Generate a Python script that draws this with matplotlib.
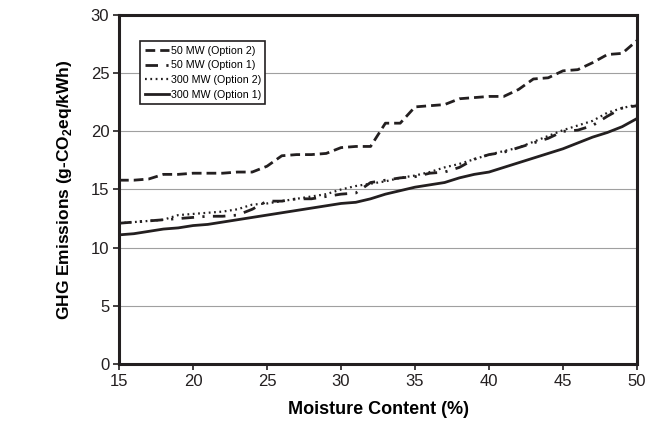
import matplotlib
matplotlib.use("Agg")
import matplotlib.pyplot as plt

plt.rcParams["font.family"] = ["Liberation Sans", "DejaVu Sans"]
plt.rcParams["mathtext.fontset"] = "custom"
plt.rcParams["mathtext.rm"] = "Liberation Sans"
plt.rcParams["mathtext.bf"] = "Liberation Sans:bold"

moisture = list(range(15, 51))

mw50_opt2 = [15.8, 15.8, 15.9, 16.3, 16.3, 16.4, 16.4, 16.4, 16.5, 16.5,
             17.0, 17.9, 18.0, 18.0, 18.1, 18.6, 18.7, 18.7, 20.7, 20.7,
             22.1, 22.2, 22.3, 22.8, 22.9, 23.0, 23.0, 23.6, 24.5, 24.6,
             25.2, 25.3, 25.9, 26.6, 26.7, 27.8]
mw50_opt1 = [12.1, 12.2, 12.3, 12.4, 12.5, 12.6, 12.7, 12.7, 12.8, 13.3,
             14.0, 14.0, 14.2, 14.2, 14.4, 14.6, 14.7, 15.6, 15.8, 16.0,
             16.1, 16.4, 16.5, 16.9, 17.6, 18.0, 18.2, 18.6, 19.0, 19.4,
             20.0, 20.1, 20.5, 21.3, 22.0, 22.2]
mw300_opt2 = [12.1, 12.2, 12.3, 12.4, 12.8, 12.9, 13.0, 13.1, 13.3, 13.7,
              13.8, 14.0, 14.2, 14.4, 14.6, 15.0, 15.3, 15.5, 15.7, 16.0,
              16.2, 16.5, 16.9, 17.2, 17.6, 18.0, 18.3, 18.6, 19.1, 19.6,
              20.1, 20.5, 20.9, 21.6, 22.0, 22.3]
mw300_opt1 = [11.1, 11.2, 11.4, 11.6, 11.7, 11.9, 12.0, 12.2, 12.4, 12.6,
              12.8, 13.0, 13.2, 13.4, 13.6, 13.8, 13.9, 14.2, 14.6, 14.9,
              15.2, 15.4, 15.6, 16.0, 16.3, 16.5, 16.9, 17.3, 17.7, 18.1,
              18.5, 19.0, 19.5, 19.9, 20.4, 21.1]

fig = plt.figure(figsize=(6.55, 4.22), dpi=100)
ax = fig.add_axes([0.1817, 0.1374, 0.7908, 0.8271])

c = "#231f20"
ax.plot(moisture, mw50_opt2, color=c, lw=2, dashes=(3.5, 1.8), label="50 MW (Option 2)")
ax.plot(moisture, mw50_opt1, color=c, lw=2, dashes=(4.5, 3, 0.8, 3), label="50 MW (Option 1)")
ax.plot(moisture, mw300_opt2, color=c, lw=1.6, dashes=(0.8, 1.6), label="300 MW (Option 2)")
ax.plot(moisture, mw300_opt1, color=c, lw=2, label="300 MW (Option 1)")

ax.set_xlim(15, 50)
ax.set_ylim(0, 30)
ax.set_xticks(range(15, 51, 5))
ax.set_yticks(range(0, 31, 5))
ax.yaxis.grid(True, color="#a0a0a0", lw=0.8)
ax.set_axisbelow(True)
for s in ax.spines.values():
    s.set_linewidth(2.2)
    s.set_color(c)
ax.tick_params(direction="out", length=4, width=1.2, labelsize=12, colors=c, pad=3)

ax.set_xlabel("Moisture Content (%)", fontsize=13, fontweight="bold", labelpad=9)
ax.set_ylabel(r"GHG Emissions (g-CO$_\mathbf{2}$eq/kWh)", fontsize=12.5,
              fontweight="bold", labelpad=12)

leg = ax.legend(loc="upper left", bbox_to_anchor=(0.031, 0.94), fontsize=7.7,
                handlelength=2.3, handletextpad=0.15, borderpad=0.4,
                labelspacing=0.45, fancybox=False, framealpha=1)
leg.get_frame().set_edgecolor(c)
leg.get_frame().set_linewidth(1.2)

fig.savefig("out.png", dpi=100)
